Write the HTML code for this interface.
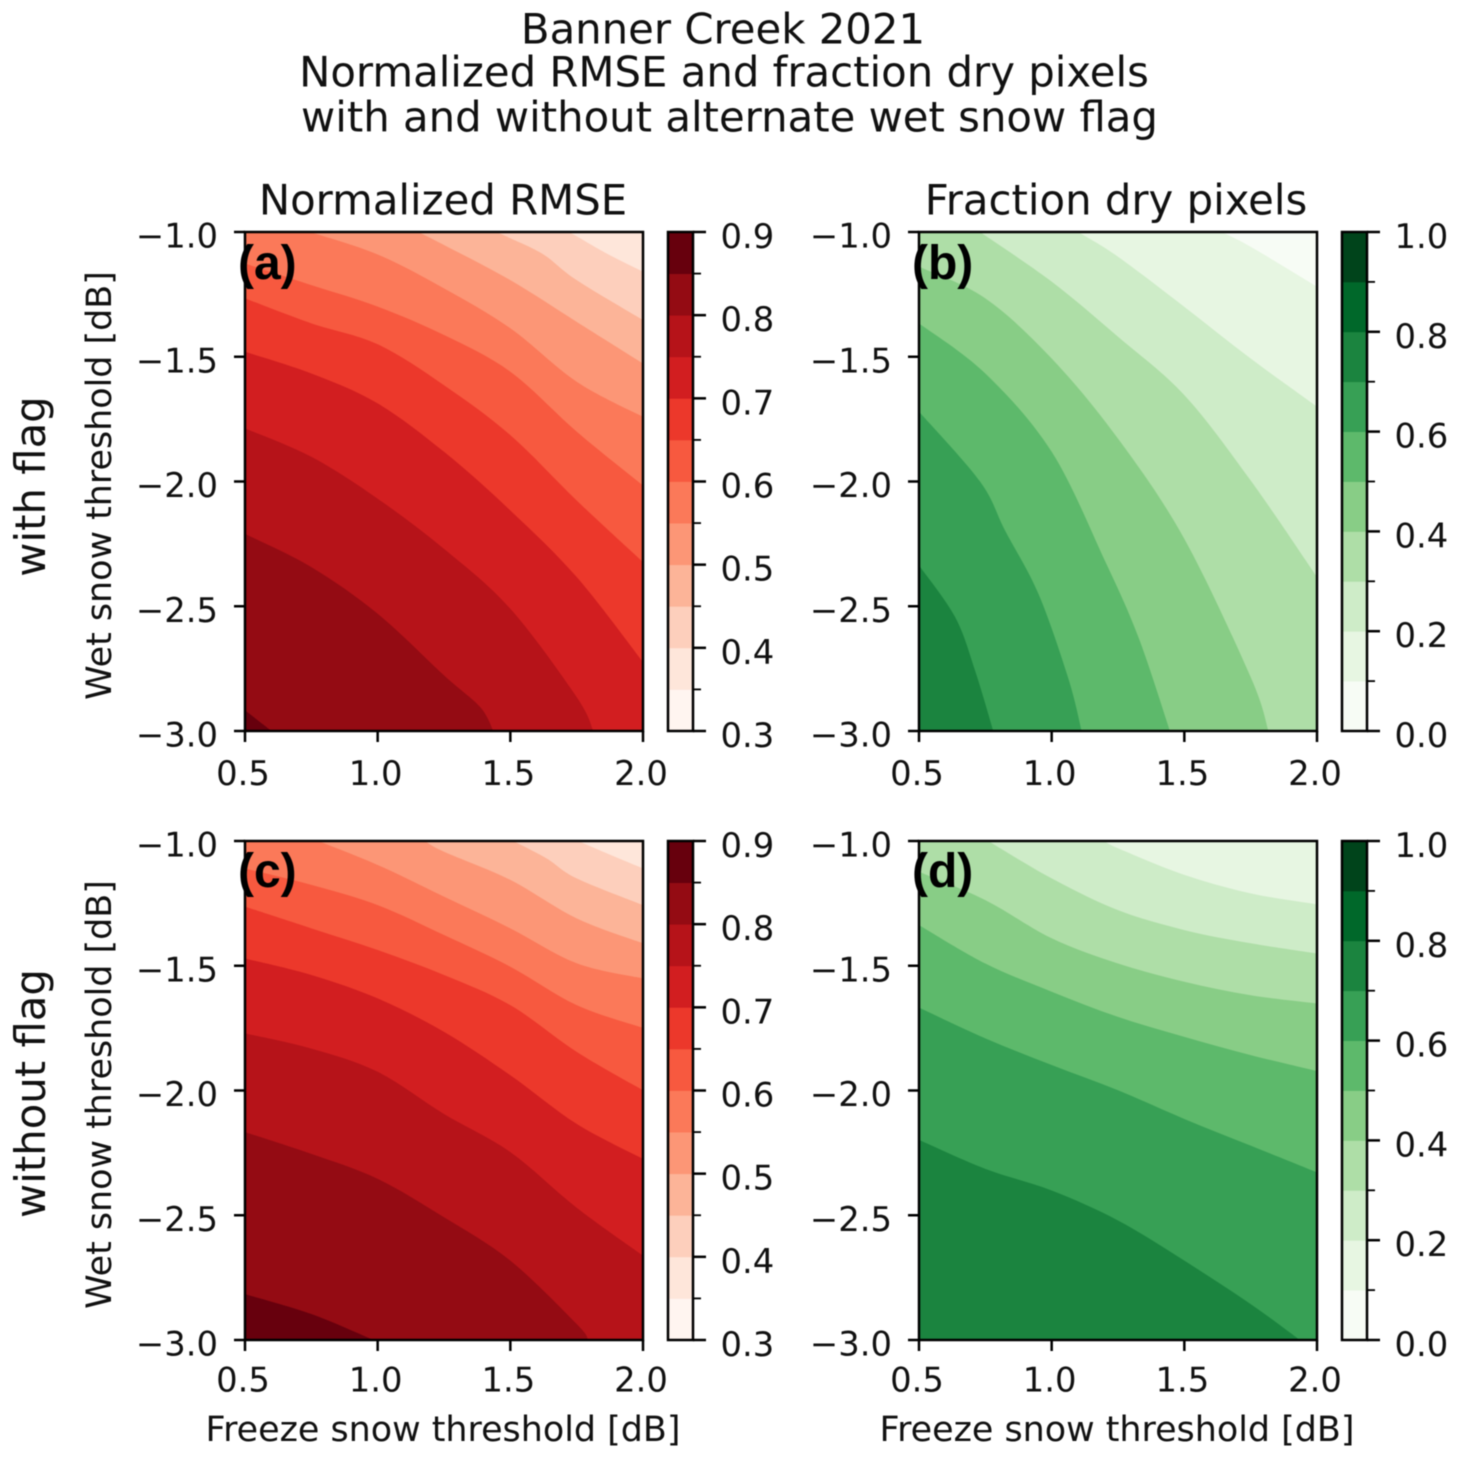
<!DOCTYPE html>
<html lang="en">
<head>
<meta charset="utf-8">
<title>Banner Creek 2021</title>
<style>
html,body{margin:0;padding:0;background:#fff;}
#fig{display:block;width:1460px;height:1463px;filter:blur(0.65px);}
text{font-family:"DejaVu Sans","Liberation Sans",sans-serif;fill:#111;}
.tick{font-size:33.8px;}
.axl{font-size:34.9px;}
.ttl{font-size:41.8px;}
.sup{font-size:41.8px;}
.tag{font-family:"Liberation Sans",sans-serif;font-weight:bold;font-size:48px;fill:#000;}
</style>
</head>
<body>
<svg id="fig" xmlns="http://www.w3.org/2000/svg" width="1460" height="1463" viewBox="0 0 1460 1463">
  <rect width="1460" height="1463" fill="#fff"/>
  <g id="marks"></g>

  <text class="sup" x="723" y="43.5" text-anchor="middle">Banner Creek 2021</text>
  <text class="sup" x="724" y="86.5" text-anchor="middle">Normalized RMSE and fraction dry pixels</text>
  <text class="sup" x="729.5" y="131.5" text-anchor="middle">with and without alternate wet snow flag</text>

  <text class="ttl" x="443" y="214.5" text-anchor="middle">Normalized RMSE</text>
  <text class="ttl" x="1116" y="214.5" text-anchor="middle">Fraction dry pixels</text>

  <text class="ttl" transform="translate(45,486.5) rotate(-90)" text-anchor="middle">with flag</text>
  <text class="ttl" transform="translate(45,1093.5) rotate(-90)" text-anchor="middle">without flag</text>

  <text class="axl" transform="translate(111,485.5) rotate(-90)" text-anchor="middle">Wet snow threshold [dB]</text>
  <text class="axl" transform="translate(111,1094.5) rotate(-90)" text-anchor="middle">Wet snow threshold [dB]</text>

  <text class="axl" x="443" y="1441" text-anchor="middle">Freeze snow threshold [dB]</text>
  <text class="axl" x="1117" y="1441" text-anchor="middle">Freeze snow threshold [dB]</text>

  <text class="tag" x="238" y="279">(a)</text>
  <text class="tag" x="912" y="279">(b)</text>
  <text class="tag" x="238" y="887">(c)</text>
  <text class="tag" x="912" y="887">(d)</text>
</svg>

<script>
// ---- axis data ----
const xTickValues = [0.5, 1.0, 1.5, 2.0];
const yTickValues = [-1.0, -1.5, -2.0, -2.5, -3.0];
const xDomain = [0.5, 2.0];
const yDomain = [-1.0, -3.0];

// ---- colour-scale data ----
const rmseLevels = [0.3, 0.35, 0.4, 0.45, 0.5, 0.55, 0.6, 0.65, 0.7, 0.75, 0.8, 0.85, 0.9];
const dryLevels = [0, 0.1, 0.2, 0.3, 0.4, 0.5, 0.6, 0.7, 0.8, 0.9, 1.0];
const rmseTicks = [0.3, 0.4, 0.5, 0.6, 0.7, 0.8, 0.9];
const dryTicks = [0, 0.2, 0.4, 0.6, 0.8, 1.0];
const redsColors = ["#fff5f0","#fee6da","#fdcfbc","#fcb498","#fc9676","#fb7959","#f7593f","#ec382b","#d21e20","#b61319","#940b13","#67000d"];
const greensColors = ["#f7fcf5","#e7f6e2","#ceecc8","#aedea7","#88cd86","#5db96b","#37a055","#1b843f","#00682a","#00441b"];

// ---- contour data: [freeze threshold, wet threshold] along each level ----
const levelsA = [0.4, 0.45, 0.5, 0.55, 0.6, 0.65, 0.7, 0.75, 0.8, 0.85];
const contoursA = [
  [[1.719,-1],[1.75,-1.017],[1.863,-1.086],[2,-1.159]],
  [[1.448,-1],[1.5,-1.025],[1.625,-1.09],[1.75,-1.193],[2,-1.353]],
  [[1.153,-1],[1.25,-1.052],[1.5,-1.193],[1.75,-1.36],[2,-1.527]],
  [[0.745,-1],[1,-1.09],[1.25,-1.226],[1.5,-1.386],[1.75,-1.6],[2,-1.741]],
  [[0.5,-1.126],[0.75,-1.213],[1,-1.299],[1.25,-1.413],[1.5,-1.56],[1.75,-1.8],[2,-2.016]],
  [[0.5,-1.266],[0.75,-1.366],[1,-1.45],[1.25,-1.614],[1.5,-1.814],[1.75,-2.076],[2,-2.323]],
  [[0.5,-1.48],[0.75,-1.567],[1,-1.687],[1.25,-1.881],[1.5,-2.116],[1.75,-2.383],[2,-2.724]],
  [[0.5,-1.787],[0.75,-1.901],[1,-2.069],[1.25,-2.27],[1.5,-2.51],[1.75,-2.864],[1.813,-3]],
  [[0.5,-2.21],[0.75,-2.343],[1,-2.53],[1.25,-2.777],[1.386,-2.904],[1.436,-3]],
  [[0.5,-2.917],[0.6,-3]]
];

const levelsB = [0.1, 0.2, 0.3, 0.4, 0.5, 0.6, 0.7];
const contoursB = [
  [[1.641,-1],[1.75,-1.059],[2,-1.219]],
  [[1.1,-1],[1.25,-1.099],[1.5,-1.3],[1.75,-1.507],[2,-1.7]],
  [[0.73,-1],[1,-1.199],[1.25,-1.42],[1.5,-1.654],[1.75,-1.996],[2,-2.383]],
  [[0.5,-1.139],[0.75,-1.266],[1,-1.507],[1.25,-1.828],[1.5,-2.23],[1.75,-2.784],[1.817,-3]],
  [[0.5,-1.366],[0.75,-1.567],[1,-1.881],[1.2,-2.316],[1.327,-2.624],[1.446,-3]],
  [[0.5,-1.72],[0.73,-2.0],[0.824,-2.196],[0.95,-2.45],[1.063,-2.79],[1.113,-3]],
  [[0.5,-2.336],[0.636,-2.543],[0.711,-2.757],[0.78,-3]]
];

const levelsC = [0.4, 0.45, 0.5, 0.55, 0.6, 0.65, 0.7, 0.75, 0.8, 0.85];
const contoursC = [
  [[1.756,-1],[1.863,-1.049],[2,-1.11]],
  [[1.511,-1],[1.637,-1.07],[1.75,-1.15],[2,-1.257]],
  [[1.178,-1],[1.25,-1.043],[1.5,-1.156],[1.75,-1.31],[2,-1.41]],
  [[0.776,-1],[1,-1.096],[1.25,-1.223],[1.5,-1.35],[1.75,-1.49],[2,-1.551]],
  [[0.5,-1.11],[0.75,-1.176],[1,-1.257],[1.25,-1.377],[1.5,-1.504],[1.75,-1.658],[2,-1.749]],
  [[0.5,-1.263],[0.75,-1.35],[1,-1.437],[1.25,-1.537],[1.5,-1.658],[1.75,-1.845],[2,-1.999]],
  [[0.5,-1.471],[0.75,-1.537],[1,-1.631],[1.25,-1.765],[1.5,-1.939],[1.75,-2.134],[2,-2.274]],
  [[0.5,-1.771],[0.75,-1.832],[1,-1.925],[1.25,-2.094],[1.5,-2.247],[1.75,-2.47],[2,-2.662]],
  [[0.5,-2.167],[0.75,-2.254],[1,-2.354],[1.25,-2.508],[1.5,-2.682],[1.75,-2.936],[1.794,-3]],
  [[0.5,-2.816],[0.75,-2.896],[0.984,-3]]
];

const levelsD = [0.2, 0.3, 0.4, 0.5, 0.6, 0.7];
const contoursD = [
  [[1.2,-1],[1.25,-1.029],[1.5,-1.136],[1.75,-1.21],[2,-1.254]],
  [[0.761,-1],[1,-1.15],[1.25,-1.277],[1.5,-1.357],[1.75,-1.41],[2,-1.451]],
  [[0.5,-1.123],[0.75,-1.237],[1,-1.39],[1.25,-1.491],[1.5,-1.564],[1.75,-1.618],[2,-1.651]],
  [[0.5,-1.337],[0.75,-1.491],[1,-1.604],[1.25,-1.705],[1.5,-1.785],[1.75,-1.858],[2,-1.922]],
  [[0.5,-1.668],[0.75,-1.791],[1,-1.898],[1.25,-1.999],[1.5,-2.114],[1.75,-2.221],[2,-2.328]],
  [[0.5,-2.198],[0.75,-2.314],[1,-2.401],[1.25,-2.521],[1.5,-2.682],[1.75,-2.856],[1.936,-3]]
];

// ---- drawing ----
const NS = "http://www.w3.org/2000/svg";
const root = document.getElementById("marks");

function make(tag, attrs, parent) {
  const el = document.createElementNS(NS, tag);
  for (const k in attrs) el.setAttribute(k, attrs[k]);
  (parent || root).appendChild(el);
  return el;
}
function linear(d0, d1, r0, r1) {
  return function (v) { return r0 + (v - d0) * (r1 - r0) / (d1 - d0); };
}
function fmt(v) {
  return v.toFixed(1).replace("-", "\u2212");
}
// Smooth curve through the contour vertices (Catmull-Rom segments as cubic Beziers).
function smoothSegments(p) {
  let d = "";
  for (let i = 0; i < p.length - 1; i++) {
    const a = p[Math.max(i - 1, 0)], b = p[i], c = p[i + 1], e = p[Math.min(i + 2, p.length - 1)];
    const c1x = b[0] + (c[0] - a[0]) / 6, c1y = b[1] + (c[1] - a[1]) / 6;
    const c2x = c[0] - (e[0] - b[0]) / 6, c2y = c[1] - (e[1] - b[1]) / 6;
    d += " C" + c1x.toFixed(2) + " " + c1y.toFixed(2) + " " + c2x.toFixed(2) + " " + c2y.toFixed(2) + " " + c[0].toFixed(2) + " " + c[1].toFixed(2);
  }
  return d;
}

function drawPanel(id, box, levels, contours, scaleLevels, colors, cbarTicks, xLabelBase) {
  const g = make("g", {});
  
  

  const xScale = linear(xDomain[0], xDomain[1], box.left, box.right);
  const yScale = linear(yDomain[0], yDomain[1], box.top, box.bottom);
  const step = scaleLevels[1] - scaleLevels[0];
  const bandIndex = function (level) { return Math.round((level - scaleLevels[0]) / step); };

  const clipId = "clip-" + id;
  const clip = make("clipPath", { id: clipId }, g);
  make("rect", { x: box.left, y: box.top, width: box.right - box.left, height: box.bottom - box.top }, clip);

  const fills = make("g", { "clip-path": "url(#" + clipId + ")" }, g);
  
  

  const base = make("rect", {
    x: box.left, y: box.top, width: box.right - box.left, height: box.bottom - box.top,
    fill: colors[bandIndex(levels[0]) - 1]
  }, fills);
  
  

  contours.forEach(function (line, i) {
    const first = line[0];
    const last = line[line.length - 1];
    const px = line.map(function (p) { return [xScale(p[0]), yScale(p[1])]; });
    let d = "M" + px[0][0].toFixed(2) + " " + px[0][1].toFixed(2) + smoothSegments(px);
    if (last[0] === xDomain[1]) d += " L" + xScale(xDomain[1]) + " " + yScale(yDomain[1]);
    d += " L" + xScale(xDomain[0]) + " " + yScale(yDomain[1]);
    if (first[0] !== xDomain[0]) d += " L" + xScale(xDomain[0]) + " " + yScale(yDomain[0]);
    d += " Z";
    const band = make("path", { d: d, fill: colors[bandIndex(levels[i])] }, fills);
    
    
  });

  const frame = make("rect", {
    x: box.left, y: box.top, width: box.right - box.left, height: box.bottom - box.top,
    fill: "none", stroke: "#000", "stroke-width": 2.5
  }, g);
  
  

  xTickValues.forEach(function (v) {
    const t = make("line", { x1: xScale(v), x2: xScale(v), y1: box.bottom, y2: box.bottom + 11, stroke: "#000", "stroke-width": 2.5 }, g);
    
    
    const l = make("text", { class: "tick", x: xScale(v) - 2, y: xLabelBase, "text-anchor": "middle" }, g);
    l.textContent = fmt(v);
    
    
  });
  yTickValues.forEach(function (v) {
    const t = make("line", { x1: box.left - 11, x2: box.left, y1: yScale(v), y2: yScale(v), stroke: "#000", "stroke-width": 2.5 }, g);
    
    
    const l = make("text", { class: "tick", x: box.left - 27, y: yScale(v) + 15.5, "text-anchor": "end" }, g);
    l.textContent = fmt(v);
    
    
  });

  // colour bar
  const cLeft = box.right + 25, cRight = box.right + 50;
  const cMin = scaleLevels[0], cMax = scaleLevels[scaleLevels.length - 1];
  const cScale = linear(cMin, cMax, box.bottom, box.top);
  const bar = make("g", {}, g);
  
  
  colors.forEach(function (c, i) {
    const yTop = cScale(scaleLevels[i + 1]);
    const yBot = cScale(scaleLevels[i]);
    const r = make("rect", { x: cLeft, y: yTop, width: cRight - cLeft, height: yBot - yTop + 0.4, fill: c }, bar);
    
    
  });
  const cf = make("rect", { x: cLeft, y: box.top, width: cRight - cLeft, height: box.bottom - box.top, fill: "none", stroke: "#000", "stroke-width": 2.5 }, bar);
  
  
  scaleLevels.forEach(function (v) {
    const major = cbarTicks.some(function (t) { return Math.abs(t - v) < 1e-6; });
    const t = make("line", { x1: cRight, x2: cRight + (major ? 13 : 8), y1: cScale(v), y2: cScale(v), stroke: "#000", "stroke-width": major ? 2.5 : 1.8 }, bar);
    
    
  });
  cbarTicks.forEach(function (v) {
    const l = make("text", { class: "tick", x: cRight + 27.5, y: cScale(v) + 16, "text-anchor": "start" }, bar);
    l.textContent = fmt(v);
    
    
  });
}

drawPanel("a", { left: 245, right: 643, top: 232, bottom: 731 }, levelsA, contoursA, rmseLevels, redsColors, rmseTicks, 785);
drawPanel("b", { left: 919, right: 1317, top: 232, bottom: 731 }, levelsB, contoursB, dryLevels, greensColors, dryTicks, 785);
drawPanel("c", { left: 245, right: 643, top: 841, bottom: 1340 }, levelsC, contoursC, rmseLevels, redsColors, rmseTicks, 1391.5);
drawPanel("d", { left: 919, right: 1317, top: 841, bottom: 1340 }, levelsD, contoursD, dryLevels, greensColors, dryTicks, 1391.5);
</script>
</body>
</html>
